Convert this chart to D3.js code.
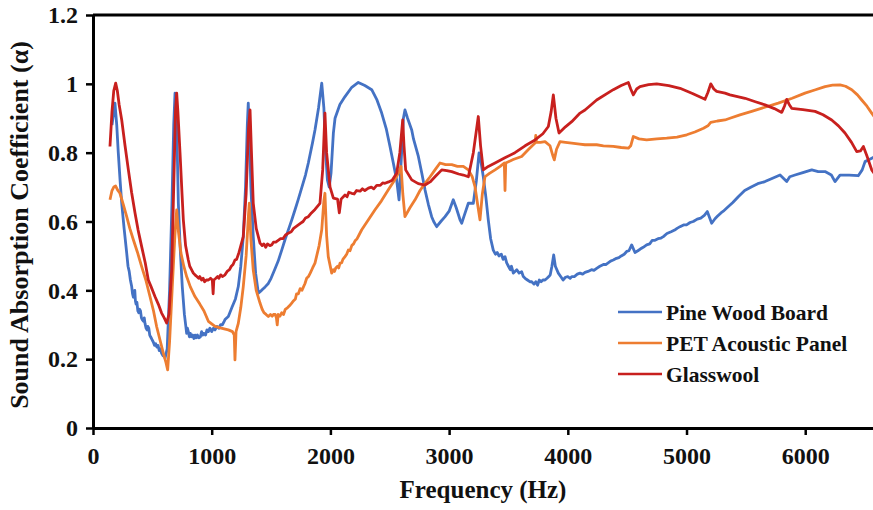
<!DOCTYPE html>
<html>
<head>
<meta charset="utf-8">
<script src="https://cdn.jsdelivr.net/npm/d3@7"></script>
<style>
  body { margin: 0; background: #fff; }
</style>
</head>
<body>
<svg width="873" height="510"></svg>
<script>
'use strict';

const X_TICKS = [0, 1000, 2000, 3000, 4000, 5000, 6000];
const Y_TICKS = [0, 0.2, 0.4, 0.6, 0.8, 1, 1.2];
const SERIES_NAMES = ["Pine Wood Board", "PET Acoustic Panel", "Glasswool"];
const FONT = "'Liberation Serif', 'Times New Roman', Tinos, 'DejaVu Serif', serif";

// [frequency Hz, absorption coefficient]
const pineWood = [
  [160,0.88],[185,0.944],[200,0.88],[213,0.80],[228,0.72],[242,0.653],[262,0.58],[284,0.508],[295,0.47],
  [305,0.455],[315,0.43],[326,0.411],[333,0.39],[340,0.38],[346,0.395],[352,0.40],[357,0.37],[363,0.36],
  [370,0.365],[378,0.34],[385,0.335],[393,0.345],[400,0.34],[408,0.32],[415,0.315],[425,0.31],[432,0.32],
  [438,0.304],[447,0.29],[455,0.285],[462,0.295],[470,0.29],[478,0.27],[485,0.265],[493,0.26],[500,0.255],
  [508,0.25],[518,0.24],[528,0.245],[538,0.235],[548,0.24],[558,0.225],[568,0.23],[578,0.217],[590,0.21],
  [600,0.212],[607,0.203],[625,0.23],
  [645,0.40],[665,0.65],[680,0.88],[691,0.973],[700,0.93],[710,0.80],[719,0.653],[735,0.52],[752,0.411],
  [770,0.33],[789,0.275],[795,0.29],[803,0.28],[812,0.265],[820,0.275],[830,0.265],[840,0.27],[850,0.26],
  [860,0.27],[870,0.262],[880,0.27],[892,0.262],[905,0.265],[915,0.28],[925,0.27],[935,0.275],[948,0.27],
  [960,0.285],[972,0.28],[985,0.29],[1000,0.28],[1015,0.29],[1028,0.285],[1045,0.295],[1060,0.29],
  [1075,0.30],[1090,0.30],[1105,0.31],[1112,0.315],[1140,0.324],
  [1170,0.35],[1200,0.375],[1224,0.411],[1245,0.47],[1266,0.556],[1285,0.70],[1300,0.88],[1308,0.944],
  [1318,0.85],[1330,0.70],[1350,0.556],[1370,0.45],[1393,0.392],[1420,0.40],[1450,0.41],[1477,0.42],
  [1500,0.435],[1530,0.46],[1560,0.485],[1590,0.517],[1620,0.55],[1650,0.58],[1675,0.605],[1702,0.634],
  [1730,0.665],[1760,0.70],[1790,0.735],[1814,0.77],[1850,0.83],[1870,0.866],
  [1900,0.93],[1927,1.002],[1945,0.93],[1960,0.80],[1975,0.72],[1990,0.70],[2005,0.74],[2025,0.857],
  [2039,0.90],[2080,0.94],[2123,0.963],[2180,0.99],[2235,1.004],[2290,0.995],[2348,0.983],[2390,0.955],
  [2432,0.915],[2470,0.87],[2502,0.818],[2530,0.77],[2558,0.721],[2578,0.663],[2600,0.80],[2615,0.90],
  [2628,0.924],[2650,0.90],[2685,0.866],[2700,0.84],[2741,0.789],[2770,0.74],[2797,0.692],[2825,0.65],
  [2853,0.614],[2870,0.60],[2895,0.585],[2930,0.60],[2966,0.614],[3000,0.63],[3035,0.663],[3060,0.64],
  [3092,0.605],[3106,0.595],[3130,0.62],[3162,0.653],[3204,0.653],[3230,0.72],[3252,0.799],[3270,0.77],
  [3288,0.73],[3310,0.67],[3330,0.605],[3350,0.55],[3372,0.517],[3390,0.505],[3405,0.51],[3420,0.50],
  [3440,0.505],[3455,0.49],[3471,0.498],[3485,0.48],[3500,0.47],[3515,0.46],[3525,0.47],[3541,0.45],
  [3555,0.455],[3570,0.46],[3590,0.45],[3611,0.454],[3625,0.44],[3640,0.435],[3660,0.43],[3680,0.425],
  [3696,0.425],[3715,0.418],[3730,0.425],[3745,0.415],[3760,0.43],[3775,0.425],[3790,0.43],[3808,0.43],
  [3825,0.435],[3840,0.44],[3852,0.445],[3866,0.47],[3881,0.503],[3895,0.47],[3920,0.45],[3940,0.44],
  [3960,0.43],[3980,0.438],[4000,0.44],[4020,0.435],[4033,0.44],[4055,0.44],[4080,0.447],[4103,0.45],
  [4125,0.447],[4145,0.452],[4170,0.455],[4200,0.46],[4220,0.458],[4243,0.464],[4270,0.47],[4300,0.475],
  [4320,0.475],[4340,0.48],[4360,0.485],[4383,0.488],[4410,0.493],[4430,0.495],[4450,0.50],[4475,0.505],
  [4496,0.513],[4515,0.515],[4538,0.532],[4566,0.51],[4590,0.515],[4610,0.52],[4635,0.525],[4664,0.532],
  [4690,0.535],[4710,0.545],[4730,0.545],[4760,0.55],[4785,0.552],[4805,0.556],[4835,0.565],[4870,0.57],
  [4900,0.575],[4920,0.58],[4945,0.585],[4975,0.59],[5000,0.59],[5030,0.597],[5057,0.60],[5090,0.607],
  [5120,0.61],[5150,0.618],[5175,0.629],[5212,0.595],[5240,0.608],[5260,0.615],[5290,0.625],[5310,0.63],
  [5339,0.639],[5390,0.655],[5436,0.672],[5490,0.69],[5549,0.701],[5600,0.71],[5661,0.716],[5720,0.725],
  [5788,0.735],[5844,0.716],[5870,0.73],[5914,0.735],[5980,0.742],[6055,0.75],[6110,0.745],[6167,0.745],
  [6220,0.735],[6251,0.716],[6293,0.735],[6370,0.735],[6447,0.733],[6480,0.75],[6504,0.774],[6540,0.78],
  [6580,0.787]
];

const petPanel = [
  [143,0.663],[160,0.69],[175,0.70],[191,0.703],[210,0.69],[227,0.682],[255,0.65],[284,0.614],[310,0.58],
  [340,0.547],[375,0.51],[410,0.469],[445,0.43],[480,0.382],[510,0.34],[536,0.295],[565,0.255],[593,0.217],
  [615,0.19],[629,0.169],[645,0.25],[668,0.411],[690,0.56],[705,0.634],[720,0.57],[741,0.508],[765,0.47],
  [789,0.44],[820,0.41],[859,0.382],[900,0.36],[935,0.34],[972,0.31],[1028,0.295],[1080,0.29],[1140,0.285],
  [1175,0.28],[1190,0.27],[1196,0.198],[1205,0.28],[1224,0.304],[1245,0.35],[1266,0.411],[1290,0.50],
  [1310,0.62],[1317,0.653],[1330,0.55],[1350,0.459],[1375,0.40],[1407,0.363],[1425,0.345],[1440,0.335],
  [1458,0.33],[1477,0.324],[1495,0.33],[1510,0.325],[1520,0.33],[1535,0.33],[1545,0.32],[1552,0.30],
  [1560,0.33],[1575,0.325],[1590,0.335],[1605,0.33],[1620,0.345],[1640,0.35],[1655,0.355],[1674,0.363],
  [1690,0.37],[1705,0.375],[1715,0.39],[1730,0.39],[1745,0.405],[1760,0.40],[1786,0.42],[1800,0.435],
  [1815,0.44],[1830,0.45],[1850,0.465],[1870,0.479],[1905,0.53],[1927,0.576],[1945,0.66],[1954,0.682],
  [1968,0.56],[1982,0.498],[2011,0.45],[2025,0.46],[2035,0.455],[2045,0.465],[2060,0.47],[2070,0.465],
  [2081,0.479],[2095,0.48],[2105,0.49],[2123,0.498],[2137,0.505],[2151,0.517],[2165,0.515],[2180,0.53],
  [2195,0.535],[2210,0.545],[2225,0.55],[2240,0.56],[2264,0.576],
  [2320,0.605],[2376,0.634],[2430,0.66],[2488,0.692],[2540,0.72],[2572,0.74],[2595,0.76],[2610,0.68],
  [2628,0.614],[2670,0.64],[2713,0.663],[2755,0.69],[2797,0.711],[2840,0.73],[2881,0.75],[2923,0.77],
  [2970,0.765],[3022,0.765],[3070,0.76],[3120,0.76],[3162,0.75],[3195,0.73],[3218,0.701],[3240,0.65],
  [3260,0.605],[3280,0.68],[3302,0.73],[3340,0.74],[3387,0.75],[3430,0.76],[3465,0.77],[3471,0.69],
  [3477,0.77],[3540,0.78],[3611,0.789],[3670,0.81],[3724,0.828],[3730,0.85],[3736,0.83],[3770,0.83],
  [3808,0.832],[3850,0.82],
  [3875,0.79],[3886,0.779],[3905,0.81],[3934,0.832],[3980,0.83],[4033,0.828],[4100,0.825],[4145,0.823],
  [4243,0.823],[4300,0.82],[4383,0.818],[4450,0.815],[4510,0.813],[4530,0.82],[4552,0.847],[4600,0.84],
  [4664,0.837],[4750,0.84],[4833,0.842],[4920,0.845],[5002,0.852],[5070,0.86],[5143,0.871],[5180,0.878],
  [5204,0.888],[5260,0.892],[5324,0.895],[5366,0.90],[5450,0.91],[5549,0.92],[5660,0.932],[5773,0.944],
  [5890,0.958],[5998,0.973],[6080,0.982],[6167,0.992],[6230,0.996],[6293,0.997],[6340,0.993],[6392,0.983],
  [6440,0.968],[6476,0.953],[6520,0.935],[6560,0.915],[6580,0.905]
];

const glasswool = [
  [143,0.818],[160,0.92],[175,0.98],[191,1.002],[205,0.98],[220,0.94],[242,0.895],[270,0.82],[298,0.75],
  [325,0.685],[354,0.625],[380,0.575],[410,0.527],[440,0.48],[466,0.43],[490,0.41],[522,0.382],[550,0.36],
  [578,0.334],[600,0.32],[620,0.305],[640,0.33],[663,0.459],[680,0.70],[695,0.92],[705,0.973],[715,0.92],
  [733,0.80],[750,0.68],[761,0.605],[780,0.53],[803,0.488],[815,0.47],[830,0.46],[845,0.45],[859,0.445],
  [875,0.44],[890,0.435],[900,0.44],[915,0.43],[928,0.435],[940,0.425],[955,0.43],[972,0.43],[990,0.435],
  [1005,0.43],[1012,0.39],[1018,0.43],[1035,0.435],[1050,0.44],[1060,0.435],[1075,0.445],[1090,0.44],
  [1112,0.445],[1130,0.455],[1150,0.46],[1165,0.47],[1180,0.475],[1196,0.488],[1210,0.49],[1230,0.51],
  [1266,0.556],[1290,0.68],[1310,0.87],[1323,0.924],[1335,0.80],[1350,0.653],[1375,0.58],
  [1407,0.537],[1425,0.53],[1440,0.535],[1455,0.525],[1470,0.535],[1490,0.53],[1505,0.532],[1520,0.54],
  [1540,0.54],[1560,0.545],[1580,0.55],[1600,0.55],[1620,0.56],[1645,0.566],[1670,0.57],[1690,0.58],
  [1710,0.585],[1730,0.59],[1750,0.595],[1770,0.60],[1790,0.61],[1814,0.614],[1840,0.625],[1870,0.635],
  [1912,0.653],[1935,0.75],[1954,0.915],[1968,0.80],[1997,0.70],[2025,0.668],[2060,0.665],[2075,0.625],
  [2090,0.665],[2123,0.677],[2140,0.672],[2155,0.685],[2179,0.682],[2200,0.68],[2220,0.69],[2250,0.688],
  [2270,0.695],[2290,0.69],[2320,0.697],[2345,0.70],[2365,0.695],[2390,0.705],[2420,0.705],[2440,0.712],
  [2460,0.711],[2490,0.715],[2520,0.72],
  [2558,0.74],[2585,0.80],[2609,0.895],[2620,0.82],[2634,0.75],[2685,0.721],[2740,0.71],[2797,0.706],
  [2840,0.715],[2881,0.73],[2938,0.75],[2980,0.748],[3022,0.745],[3080,0.738],[3120,0.735],[3162,0.73],
  [3204,0.80],[3246,0.905],[3265,0.82],[3288,0.75],[3330,0.76],[3387,0.77],[3470,0.785],[3555,0.80],
  [3640,0.82],[3724,0.837],[3790,0.855],[3836,0.876],[3860,0.92],[3878,0.968],[3900,0.90],[3926,0.857],
  [3980,0.875],[4033,0.89],[4103,0.915],[4145,0.924],[4243,0.953],[4383,0.983],[4450,0.995],[4510,1.004],
  [4530,0.985],[4552,0.968],[4580,0.985],[4608,0.992],[4680,0.998],[4749,1.0],[4850,0.995],[4945,0.987],
  [5050,0.972],[5156,0.955],[5180,0.975],[5204,1.0],[5230,0.985],[5254,0.978],[5324,0.973],[5366,0.968],
  [5493,0.958],[5580,0.948],[5661,0.939],[5740,0.928],[5802,0.917],[5825,0.935],[5844,0.955],[5865,0.94],
  [5886,0.929],[5980,0.925],[6083,0.92],[6150,0.91],[6223,0.895],[6280,0.878],[6335,0.857],[6390,0.83],
  [6434,0.803],[6465,0.805],[6490,0.818],[6520,0.79],[6560,0.75],[6580,0.74]
];

const COLORS = ["#4472C4", "#ED7D31", "#C8201E"];

const LEFT = 93, RIGHT = 873, TOP = 15, BOTTOM = 428;

const svg = d3.select("svg");

const x = d3.scaleLinear().domain([0, 6571]).range([LEFT, RIGHT]);
const y = d3.scaleLinear().domain([0, 1.2]).range([BOTTOM, TOP]);

svg.append("defs").append("clipPath").attr("id", "plot-clip")
  .append("rect")
  .attr("x", LEFT).attr("y", TOP)
  .attr("width", RIGHT - LEFT).attr("height", BOTTOM - TOP);

// lines
const line = d3.line().x(d => x(d[0])).y(d => y(d[1]));
const allSeries = [pineWood, petPanel, glasswool];

svg.append("g")
  .attr("clip-path", "url(#plot-clip)")
  .selectAll("path")
  .data(allSeries)
  .join("path")
  .attr("d", line)
  .attr("fill", "none")
  .attr("stroke", (d, i) => COLORS[i])
  .attr("stroke-width", 2.8)
  .attr("stroke-linejoin", "round");

// top frame line
svg.append("line")
  .attr("x1", LEFT).attr("x2", RIGHT)
  .attr("y1", TOP).attr("y2", TOP)
  .attr("stroke", "#000").attr("stroke-width", 3);

const axisX = svg.append("g")
  .attr("transform", `translate(0,${BOTTOM})`)
  .call(d3.axisBottom(x).tickValues(X_TICKS).tickFormat(d3.format("d")).tickSize(7).tickSizeOuter(0).tickPadding(12));

const axisY = svg.append("g")
  .attr("transform", `translate(${LEFT},0)`)
  .call(d3.axisLeft(y).tickValues(Y_TICKS).tickFormat(d => String(d)).tickSize(7).tickSizeOuter(0).tickPadding(8));

[axisX, axisY].forEach(a => {
  a.attr("font-family", FONT).attr("font-weight", "bold");
  a.select(".domain").attr("stroke", "#000").attr("stroke-width", 3);
  a.selectAll(".tick line").attr("stroke", "#000").attr("stroke-width", 2.5);
  a.selectAll(".tick text")
    .attr("font-size", 24)
    .attr("fill", "#111");
});

// axis titles
svg.append("text")
  .attr("x", (LEFT + RIGHT) / 2).attr("y", 498)
  .attr("text-anchor", "middle")
  .attr("font-family", FONT).attr("font-weight", "bold")
  .attr("font-size", 25)
  .attr("fill", "#111")
  .text("Frequency (Hz)");

svg.append("text")
  .attr("transform", `translate(28,225) rotate(-90)`)
  .attr("text-anchor", "middle")
  .attr("font-family", FONT).attr("font-weight", "bold")
  .attr("font-size", 26)
  .attr("fill", "#111")
  .text("Sound Absorption Coefficient (α)");

// legend
const legend = svg.append("g").attr("transform", "translate(618,312)");
const rows = legend.selectAll("g").data(SERIES_NAMES).join("g")
  .attr("transform", (d, i) => `translate(0,${i * 31})`);
rows.append("line")
  .attr("x1", 0).attr("x2", 44)
  .attr("stroke", (d, i) => COLORS[i]).attr("stroke-width", 2.6);
rows.append("text")
  .attr("x", 48).attr("dy", "0.35em")
  .attr("font-family", FONT).attr("font-weight", "bold")
  .attr("font-size", 21.5)
  .attr("fill", "#111")
  .text(d => d);
</script>
</body>
</html>
